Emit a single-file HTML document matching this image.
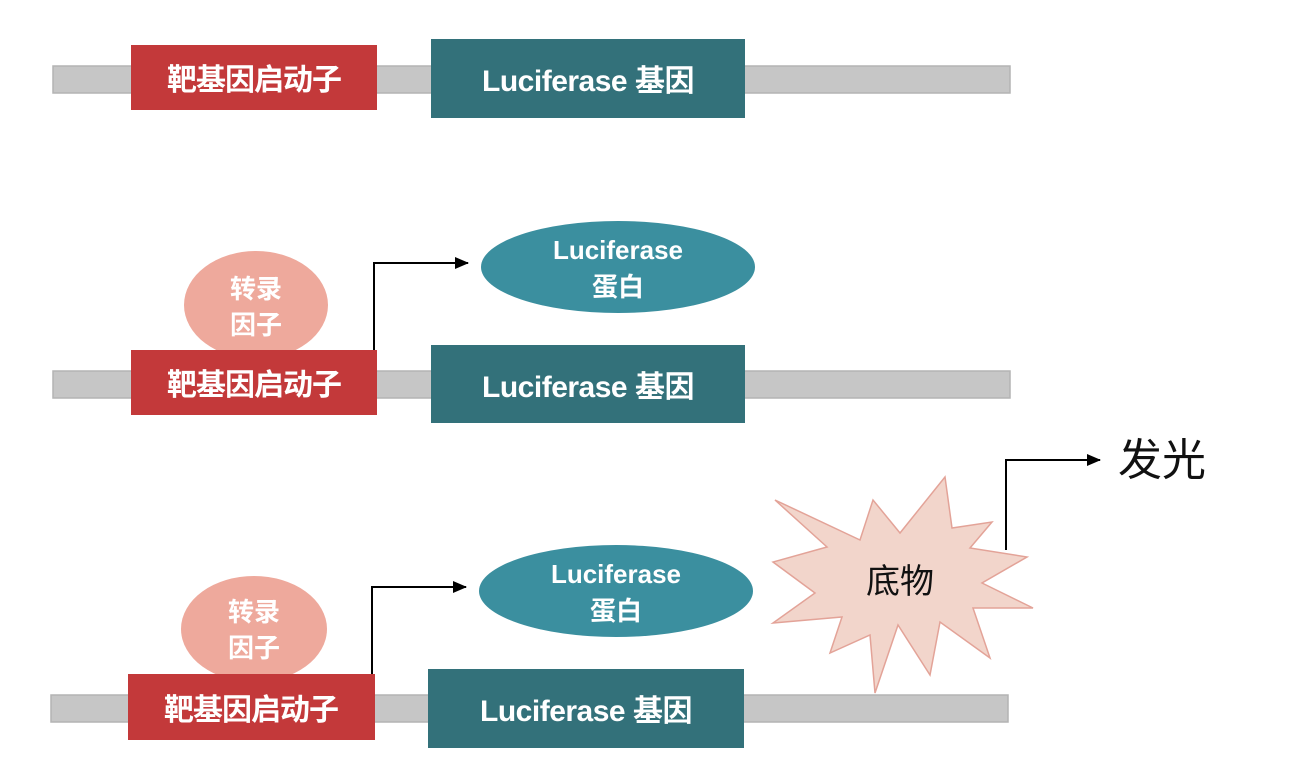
<!DOCTYPE html>
<html><head><meta charset="utf-8"><style>
html,body{margin:0;padding:0;background:#fff;}
svg{display:block;}
text{font-family:"Liberation Sans","Noto Sans CJK SC",sans-serif;}
</style></head><body>
<svg width="1304" height="782" viewBox="0 0 1304 782" xmlns="http://www.w3.org/2000/svg">
<defs>
<marker id="ah" markerWidth="14" markerHeight="12" refX="13" refY="6" orient="auto" markerUnits="userSpaceOnUse">
<path d="M0,0 L14,6 L0,12 z" fill="#000"/></marker>
</defs>
<!-- Row 1 -->
<rect x="53" y="66" width="957" height="27" fill="#c6c6c6" stroke="#b4b4b4" stroke-width="1.5"/>
<rect x="131" y="45" width="246" height="65" fill="#c3393a"/>
<text x="254" y="90" font-size="30" font-weight="bold" fill="#fff" text-anchor="middle" letter-spacing="-1">靶基因启动子</text>
<rect x="431" y="39" width="314" height="79" fill="#33717a"/>
<text x="588" y="91" font-size="30" font-weight="bold" fill="#fff" text-anchor="middle" letter-spacing="-0.5">Luciferase 基因</text>

<!-- Row 2 -->
<rect x="53" y="371" width="957" height="27" fill="#c6c6c6" stroke="#b4b4b4" stroke-width="1.5"/>
<ellipse cx="256" cy="305" rx="72" ry="54" fill="#eea99c"/>
<text x="256" y="298" font-size="26" font-weight="bold" fill="#fff" text-anchor="middle">转录</text>
<text x="256" y="334" font-size="26" font-weight="bold" fill="#fff" text-anchor="middle">因子</text>
<rect x="131" y="350" width="246" height="65" fill="#c3393a"/>
<text x="254" y="395" font-size="30" font-weight="bold" fill="#fff" text-anchor="middle" letter-spacing="-1">靶基因启动子</text>
<rect x="431" y="345" width="314" height="78" fill="#33717a"/>
<text x="588" y="397" font-size="30" font-weight="bold" fill="#fff" text-anchor="middle" letter-spacing="-0.5">Luciferase 基因</text>
<ellipse cx="618" cy="267" rx="137" ry="46" fill="#3b8f9f"/>
<text x="618" y="259" font-size="26" font-weight="bold" fill="#fff" text-anchor="middle">Luciferase</text>
<text x="618" y="296" font-size="26" font-weight="bold" fill="#fff" text-anchor="middle">蛋白</text>
<polyline points="374,350 374,263 468,263" fill="none" stroke="#000" stroke-width="2" marker-end="url(#ah)"/>

<!-- Row 3 -->
<rect x="51" y="695" width="957" height="27" fill="#c6c6c6" stroke="#b4b4b4" stroke-width="1.5"/>
<ellipse cx="254" cy="629" rx="73" ry="53" fill="#eea99c"/>
<text x="254" y="621" font-size="26" font-weight="bold" fill="#fff" text-anchor="middle">转录</text>
<text x="254" y="657" font-size="26" font-weight="bold" fill="#fff" text-anchor="middle">因子</text>
<rect x="128" y="674" width="247" height="66" fill="#c3393a"/>
<text x="251" y="720" font-size="30" font-weight="bold" fill="#fff" text-anchor="middle" letter-spacing="-1">靶基因启动子</text>
<rect x="428" y="669" width="316" height="79" fill="#33717a"/>
<text x="586" y="721" font-size="30" font-weight="bold" fill="#fff" text-anchor="middle" letter-spacing="-0.5">Luciferase 基因</text>
<ellipse cx="616" cy="591" rx="137" ry="46" fill="#3b8f9f"/>
<text x="616" y="583" font-size="26" font-weight="bold" fill="#fff" text-anchor="middle">Luciferase</text>
<text x="616" y="620" font-size="26" font-weight="bold" fill="#fff" text-anchor="middle">蛋白</text>
<polyline points="372,674 372,587 466,587" fill="none" stroke="#000" stroke-width="2" marker-end="url(#ah)"/>

<!-- starburst -->
<polygon points="775,500 860,540 873,500 900,533 945,477 952,528 992,522 970,548 1027,557 982,583 1033,608 973,608 990,658 940,622 930,675 898,625 875,693 870,635 830,653 842,617 773,623 815,593 773,562 827,547"
 fill="#f2d5cb" stroke="#e3a398" stroke-width="1.5"/>
<text x="900" y="593" font-size="34" fill="#111" text-anchor="middle">底物</text>
<polyline points="1006,550 1006,460 1100,460" fill="none" stroke="#000" stroke-width="2" marker-end="url(#ah)"/>
<text x="1118" y="475" font-size="44" fill="#111">发光</text>
</svg>
</body></html>
